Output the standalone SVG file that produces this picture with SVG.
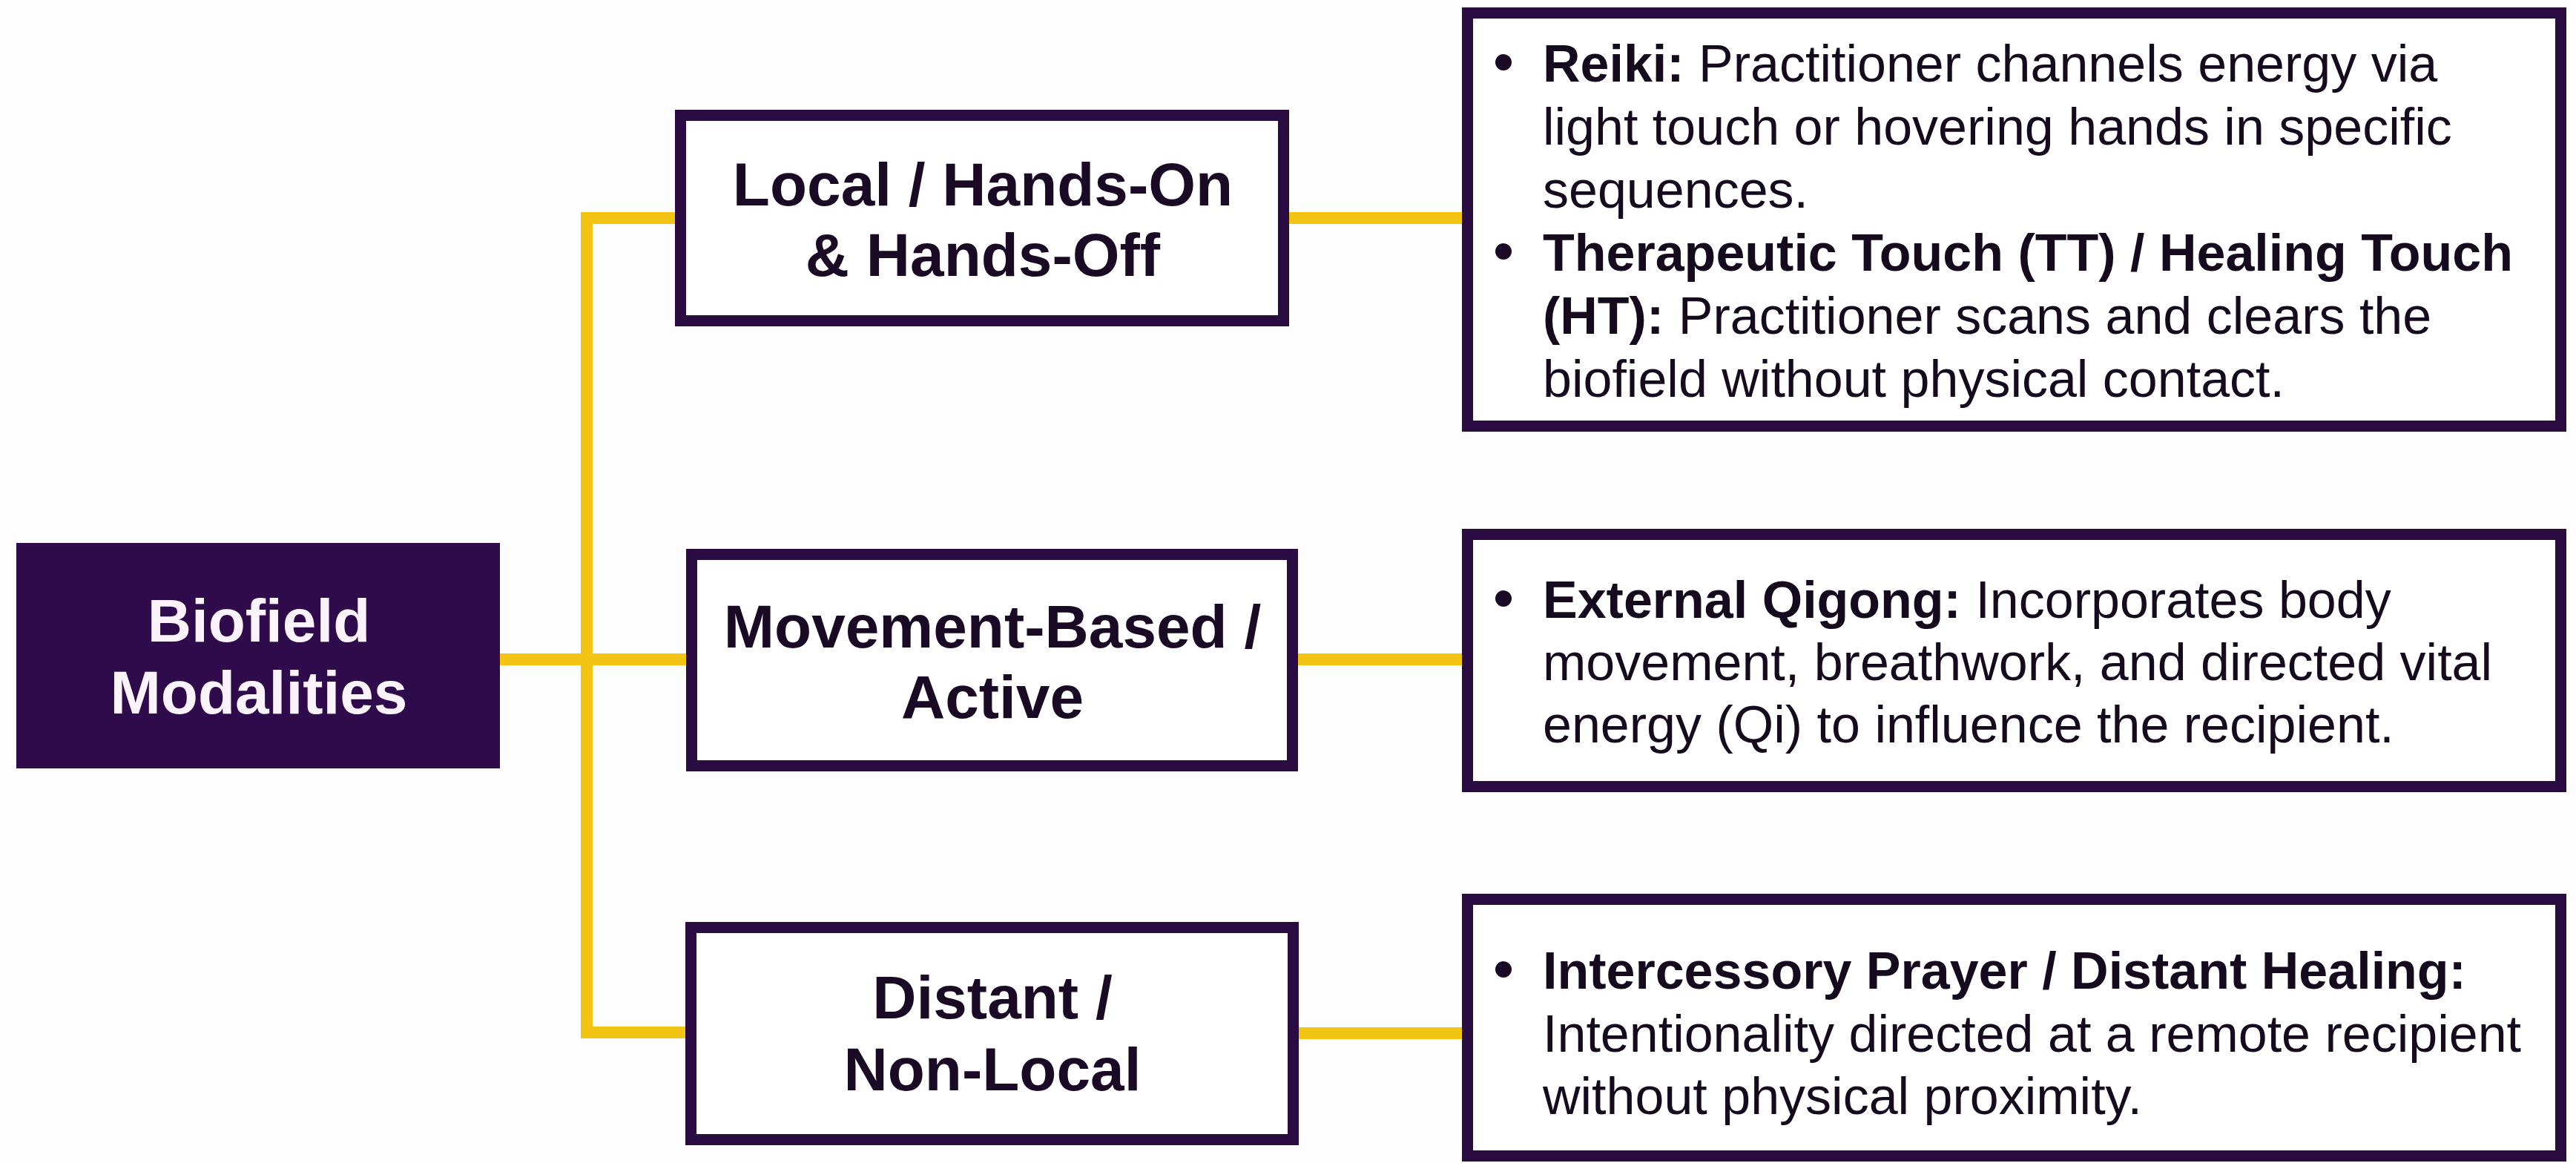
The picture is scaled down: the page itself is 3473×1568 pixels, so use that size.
<svg xmlns="http://www.w3.org/2000/svg" width="3473" height="1568" viewBox="0 0 3473 1568">
<style>
.bg{fill:#fefdfe}
.root{fill:#2f0b4b}
.box{fill:#ffffff;stroke:#2a0b42;stroke-width:15}
.conn{fill:none;stroke:#f2c414;stroke-width:16;stroke-linejoin:miter;stroke-linecap:butt}
.lbl{font-family:"Liberation Sans",Arial,sans-serif;font-weight:bold;font-size:82px;fill:#1a0a26;text-anchor:middle}
.rlbl{font-family:"Liberation Sans",Arial,sans-serif;font-weight:bold;font-size:82px;fill:#fbf3fc;text-anchor:middle}
.txt{font-family:"Liberation Sans",Arial,sans-serif;font-size:70px;fill:#150a1e}
.b{font-weight:bold}
.dot{fill:#1a0a26}
</style>
<rect class="bg" x="0" y="0" width="3473" height="1568"/>
<g id="connectors">
<path class="conn" d="M910 294 H791 V1392 H924"/>
<path class="conn" d="M674 889 H925"/>
<path class="conn" d="M1738 294 H1971"/>
<path class="conn" d="M1750 889 H1971"/>
<path class="conn" d="M1751 1393 H1971"/>
</g>
<g id="root">
<rect class="root" x="22" y="732" width="652" height="304"/>
<text class="rlbl" x="349" y="865">Biofield</text>
<text class="rlbl" x="349" y="962">Modalities</text>
</g>
<g id="local">
<rect class="box" x="917.5" y="155.5" width="813" height="277"/>
<text class="lbl" x="1325" y="277">Local / Hands-On</text>
<text class="lbl" x="1325" y="372">&amp; Hands-Off</text>
</g>
<g id="movement">
<rect class="box" x="932.5" y="747.5" width="810" height="285"/>
<text class="lbl" x="1338" y="873">Movement-Based /</text>
<text class="lbl" x="1338" y="968">Active</text>
</g>
<g id="distant">
<rect class="box" x="931.5" y="1250.5" width="812" height="286"/>
<text class="lbl" x="1338" y="1373">Distant /</text>
<text class="lbl" x="1338" y="1470">Non-Local</text>
</g>
<g id="detail-local">
<rect class="box" x="1978.5" y="17.5" width="1474" height="557"/>
<circle class="dot" cx="2027" cy="84" r="11"/>
<text class="txt" x="2080" y="110"><tspan class="b">Reiki:</tspan> Practitioner channels energy via</text>
<text class="txt" x="2080" y="195">light touch or hovering hands in specific</text>
<text class="txt" x="2080" y="280">sequences.</text>
<circle class="dot" cx="2027" cy="339" r="11"/>
<text class="txt" x="2080" y="365"><tspan class="b">Therapeutic Touch (TT) / Healing Touch</tspan></text>
<text class="txt" x="2080" y="450"><tspan class="b">(HT):</tspan> Practitioner scans and clears the</text>
<text class="txt" x="2080" y="535">biofield without physical contact.</text>
</g>
<g id="detail-movement">
<rect class="box" x="1978.5" y="720.5" width="1474" height="340"/>
<circle class="dot" cx="2027" cy="807" r="11"/>
<text class="txt" x="2080" y="833"><tspan class="b">External Qigong:</tspan> Incorporates body</text>
<text class="txt" x="2080" y="917">movement, breathwork, and directed vital</text>
<text class="txt" x="2080" y="1001">energy (Qi) to influence the recipient.</text>
</g>
<g id="detail-distant">
<rect class="box" x="1978.5" y="1212.5" width="1474" height="346"/>
<circle class="dot" cx="2027" cy="1307" r="11"/>
<text class="txt" x="2080" y="1333"><tspan class="b">Intercessory Prayer / Distant Healing:</tspan></text>
<text class="txt" x="2080" y="1418">Intentionality directed at a remote recipient</text>
<text class="txt" x="2080" y="1502">without physical proximity.</text>
</g>
</svg>
